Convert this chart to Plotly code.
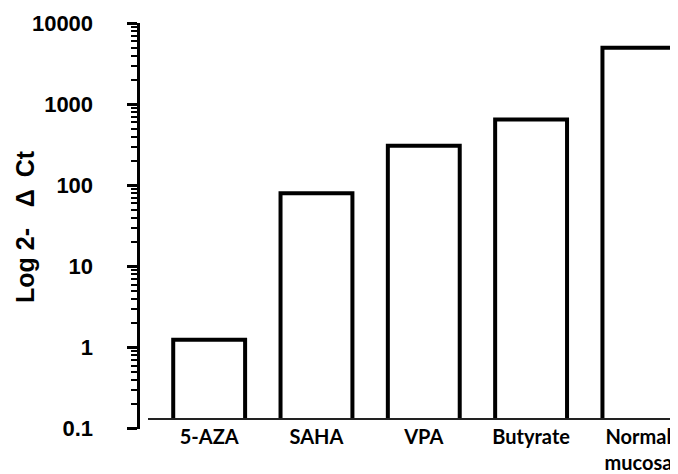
import plotly.graph_objects as go

categories = ["5-AZA", "SAHA", "VPA", "Butyrate", "Normal<br>mucosa"]
values = [1.25, 80, 310, 650, 5000]
y_tickvals = [0.1, 1, 10, 100, 1000, 10000]
y_ticktext = ["0.1", "1", "10", "100", "1000", "10000"]
y_title = "Log 2-\u00a0\u00a0\u00a0\u0394\u00a0\u2009Ct"

# the page body has an 8px margin; figure fills the rest of the 678x474 window
OFF = 8
W, H = 678 - OFF, 474 - OFF

def px_x(p):
    return (p - OFF) / W

def px_y(p):
    return 1 - (p - OFF) / H

fig = go.Figure()

fig.add_trace(go.Bar(
    x=list(range(len(categories))),
    y=values,
    base=[0.001] * len(values),
    width=0.67,
    marker=dict(color="white", line=dict(color="black", width=4)),
    xaxis="x2", yaxis="y2",
    showlegend=False,
    hoverinfo="skip",
))

fig.add_trace(go.Scatter(x=[0], y=[1], mode="markers",
                         marker=dict(opacity=0), showlegend=False,
                         hoverinfo="skip", xaxis="x", yaxis="y"))

fig.update_layout(
    width=W, height=H,
    margin=dict(l=0, r=0, t=0, b=0, autoexpand=False),
    paper_bgcolor="white", plot_bgcolor="rgba(0,0,0,0)",
    font=dict(family="Liberation Sans, Arial, sans-serif", color="black"),
    xaxis=dict(domain=[px_x(139.5), 1], range=[0, 1], visible=False,
               anchor="y", automargin=False),
    yaxis=dict(
        domain=[px_y(428.6), px_y(23.4)], type="log", range=[-1, 4],
        anchor="x", showline=True, linewidth=3, linecolor="black",
        showgrid=False, zeroline=False, automargin=False,
        ticks="outside", ticklen=10, tickwidth=3, tickcolor="black",
        tickvals=y_tickvals, ticktext=y_ticktext,
        ticklabelstandoff=29,
        tickfont=dict(size=22, weight="bold", family="Liberation Sans, Arial"),
        minor=dict(ticks="outside", ticklen=6, tickwidth=2,
                   tickcolor="black", dtick="D1", showgrid=False),
    ),
    xaxis2=dict(
        domain=[px_x(148), 1], range=[-0.570, 4.369], anchor="y2",
        tickvals=list(range(len(categories))), ticktext=categories,
        showline=True, linewidth=1.5, linecolor="#222",
        showgrid=False, zeroline=False, ticks="", automargin=False,
        tickfont=dict(size=20, weight="bold", family="Lato, sans-serif"),
        ticklabelstandoff=0,
    ),
    yaxis2=dict(
        domain=[px_y(418), px_y(23.4)], type="log", range=[-0.869, 4],
        anchor="x2", visible=False, showgrid=False, automargin=False,
    ),
    annotations=[dict(
        text=y_title, textangle=-90, showarrow=False,
        xref="paper", yref="paper", x=px_x(25), y=px_y(227),
        xanchor="center", yanchor="middle",
        font=dict(size=25, weight="bold", family="Liberation Sans, Arial"),
    )],
)

fig.write_html("out.html")
